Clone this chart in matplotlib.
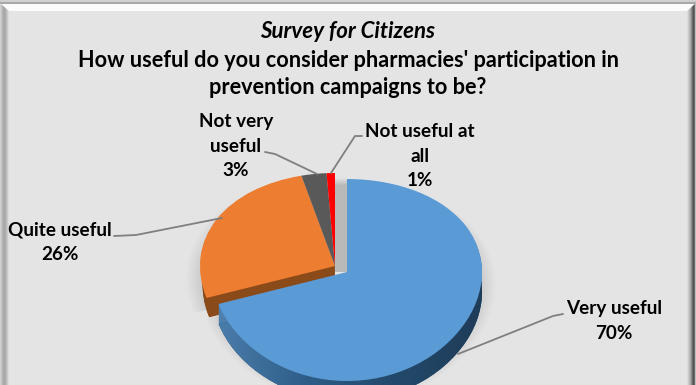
"""
Survey for Citizens - exploded 3D style pie
"""

import numpy as np
import matplotlib
matplotlib.use('Agg')
import matplotlib.pyplot as plt
from matplotlib.colors import LinearSegmentedColormap
from matplotlib.patches import Polygon, Rectangle
from matplotlib.transforms import Transform

plt.rcParams['font.family'] = ['Lato', 'DejaVu Sans']

# Data
categories = ['Very useful', 'Quite useful', 'Not very useful', 'Not useful at all']
shares = [70, 26, 3, 1]
top_colors = ['none', '#ED7D31', '#595959', '#FF0000']

title_top = 'Survey for Citizens'
title_main = "How useful do you consider pharmacies' participation in\nprevention campaigns to be?"

W, H = 696, 385
DEPTH = 20
RX, RY, BULGE = 135, 101, 8


class Tilt(Transform):
    """Pie units -> picture pixels, the near side of the disc a bit larger."""
    input_dims = 2
    output_dims = 2

    def __init__(self, cx, cy, rx=RX, ry=RY):
        super().__init__()
        self.cx, self.cy, self.rx, self.ry = cx, cy, rx, ry

    def transform_non_affine(self, values):
        x, y = values[:, 0], values[:, 1]
        return np.column_stack([self.cx + self.rx * x,
                                self.cy - self.ry * y + BULGE * y ** 2])


fig = plt.figure(figsize=(W / 100, H / 100), dpi=100, facecolor='#E4E4E4')
ax = fig.add_axes([0, 0, 1, 1])

# apex of each slice: the blue one is pulled out
apex = [(347, 272), (335, 266), (335, 266), (335, 266)]


def draw_pie(colors, dy=0, alpha=None, scale=1.0):
    wedges, _ = ax.pie(shares, colors=colors, startangle=90, counterclock=False)
    for w, (cx, cy) in zip(wedges, apex):
        w.set_transform(Tilt(cx, cy + dy, RX * scale, RY * scale) + ax.transData)
        if alpha is not None:
            w.set_alpha(alpha)
    return wedges


# soft shadow
for s in np.linspace(1.10, 1.0, 8):
    draw_pie(['#000000'] * 4, dy=DEPTH * 0.6, alpha=0.012, scale=s)

# grey cut face behind the pulled out slice, fading out at the top
for i, c in enumerate(np.linspace(0.88, 0.72, 8)):
    ax.add_patch(Rectangle((335, 178 + i), 12, 1.2, facecolor=str(c), edgecolor='none'))
ax.add_patch(Rectangle((335, 186), 12, 86, facecolor='#B9B9B9', edgecolor='none'))

# orange side wall, a little narrower so it only shows at the cut
for dy in range(1, DEPTH + 1):
    draw_pie(['none', '#8A4A1A', 'none', 'none'], dy=dy, scale=0.98)
draw_pie(top_colors)

# blue side wall
for dy in range(1, DEPTH):
    draw_pie(['#4E80AE', 'none', 'none', 'none'], dy=dy)
blue_side = draw_pie(['#2F5778', 'none', 'none', 'none'], dy=DEPTH)
grad = np.linspace(0, 1, 256)[None, :]
img = ax.imshow(grad, extent=(210, 482, 385, 250), aspect='auto', zorder=3,
                cmap=LinearSegmentedColormap.from_list(
                    'rim', ['#4E80AE', '#2F5F8A', '#234A6C', '#1F3C58']))
img.set_clip_path(blue_side[0])
blue_top = draw_pie(['#5B9BD5', 'none', 'none', 'none'])
blue_top[0].set_zorder(4)

# leader lines
leaders = [
    ([458, 553, 563], [354, 316, 314]),
    ([222, 136, 114], [218, 235, 236]),
    ([317, 275, 265], [174, 154, 152]),
    ([331, 355, 362], [173, 136, 136]),
]
for lx, ly in leaders:
    ax.plot(lx, ly, color='#7F7F7F', lw=1.3, zorder=5, solid_capstyle='round')

ax.set_xlim(0, W)
ax.set_ylim(H, 0)
ax.set_aspect('auto')
ax.axis('off')

# frame bevel
left_shades = ['#D0D0D0', '#C4C4C4', '#B4B4B4', '#ABABAB', '#A8A8A8', '#ADADAD', '#BBBBBB', '#CCCCCC', '#DADADA']
right_shades = ['#DADADA', '#CCCCCC', '#BBBBBB', '#A8A8A8', '#8E8E8E', '#6A6A6A', '#555555', '#6A6A6A', '#BDBDBD']
ax.add_patch(Rectangle((0, 2), W, 2, facecolor='#A8A8A8', edgecolor='none', zorder=6))
ax.add_patch(Rectangle((0, 0), W, 2, facecolor='#D0D0D0', edgecolor='none', zorder=6))
ax.add_patch(Polygon([(0, 4), (W, 4), (W - 9, 11), (9, 11)], facecolor='#FBFBFB', edgecolor='none', zorder=6))
for i, c in enumerate(left_shades):
    ax.add_patch(Polygon([(i, i * 0.9 + 3), (i + 1, i * 0.9 + 4), (i + 1, H), (i, H)], facecolor=c, edgecolor='none', zorder=6))
for i, c in enumerate(right_shades):
    x0 = W - 9 + i
    ax.add_patch(Polygon([(x0, (W - x0) * 0.9 + 3), (x0 + 1, (W - x0) * 0.9 + 2), (x0 + 1, H), (x0, H)], facecolor=c, edgecolor='none', zorder=6))

# text
ax.text(348, 32, title_top, ha='center', va='center', fontsize=16, style='italic', fontweight='bold', zorder=7)
ax.text(348, 74, title_main, ha='center', va='center', fontsize=15.6, fontweight='bold', linespacing=1.37, zorder=7)

ax.text(236, 146, 'Not very\nuseful\n3%', ha='center', va='center', fontsize=13.6, fontweight='bold', linespacing=1.55, zorder=7)
ax.text(420, 156, 'Not useful at\nall\n1%', ha='center', va='center', fontsize=13.6, fontweight='bold', linespacing=1.55, zorder=7)
ax.text(60, 242, 'Quite useful\n26%', ha='center', va='center', fontsize=13.6, fontweight='bold', linespacing=1.55, zorder=7)
ax.text(614, 321, 'Very useful\n70%', ha='center', va='center', fontsize=13.6, fontweight='bold', linespacing=1.55, zorder=7)

fig.savefig('out.png', dpi=100, facecolor=fig.get_facecolor())
plt.close(fig)
